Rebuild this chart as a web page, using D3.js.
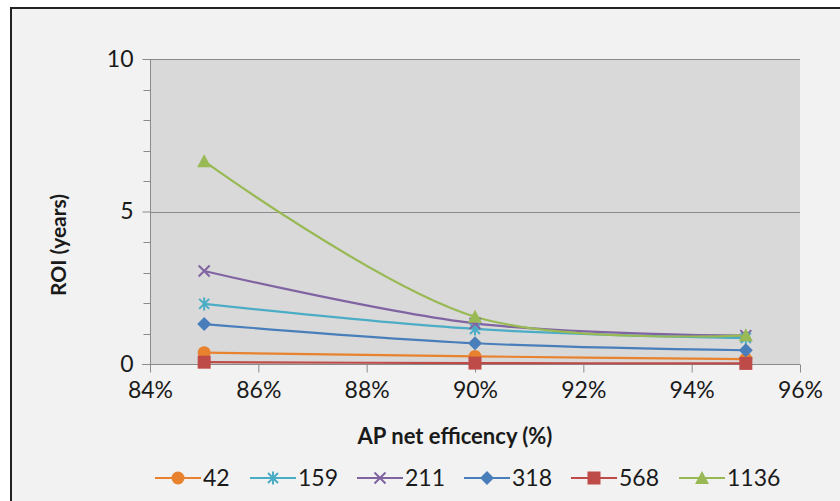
<!DOCTYPE html>
<html>
<head>
<meta charset="utf-8">
<script src="https://cdn.jsdelivr.net/npm/d3@7"></script>
<style>
  html, body { margin: 0; padding: 0; background: #ffffff; }
  svg { display: block; }
  text { font-family: Lato, "Open Sans", sans-serif; fill: #1a1a1a; }
</style>
</head>
<body>
<svg id="chart" width="840" height="501"></svg>
<script>
// AP net efficiency (fraction) on the x axis
const efficiency = [0.85, 0.90, 0.95];

// ROI in years for each installation size
const roi42   = [0.37, 0.25, 0.16];
const roi159  = [1.97, 1.15, 0.85];
const roi211  = [3.05, 1.33, 0.93];
const roi318  = [1.31, 0.68, 0.45];
const roi568  = [0.06, 0.03, 0.02];
const roi1136 = [6.65, 1.55, 0.94];

const seriesNames = ["42", "159", "211", "318", "568", "1136"];
const xTicks = [0.84, 0.86, 0.88, 0.90, 0.92, 0.94, 0.96];
const yTicks = [0, 5, 10];

const series = [
  { name: seriesNames[0], values: roi42,   color: "#E8822F", marker: "circle" },
  { name: seriesNames[1], values: roi159,  color: "#4BACC6", marker: "star" },
  { name: seriesNames[2], values: roi211,  color: "#8064A2", marker: "cross" },
  { name: seriesNames[3], values: roi318,  color: "#4A7EBB", marker: "diamond" },
  { name: seriesNames[4], values: roi568,  color: "#BE4B48", marker: "square" },
  { name: seriesNames[5], values: roi1136, color: "#98B954", marker: "triangle" }
];

const svg = d3.select("#chart");

// chart area with its frame
svg.append("rect").attr("x", 11).attr("y", 8).attr("width", 829).attr("height", 493).attr("fill", "#f2f2f2");
svg.append("line").attr("x1", 10).attr("x2", 840).attr("y1", 8).attr("y2", 8).attr("stroke", "#222").attr("stroke-width", 2);
svg.append("line").attr("x1", 11).attr("x2", 11).attr("y1", 7).attr("y2", 501).attr("stroke", "#222").attr("stroke-width", 2);

const plot = { left: 150, right: 800, top: 59, bottom: 364 };

const x = d3.scaleLinear().domain([0.84, 0.96]).range([plot.left, plot.right]);
const y = d3.scaleLinear().domain([0, 10]).range([plot.bottom, plot.top]);

// plot background
svg.append("rect")
  .attr("x", plot.left).attr("y", plot.top)
  .attr("width", plot.right - plot.left).attr("height", plot.bottom - plot.top)
  .attr("fill", "#d9d9d9");

// horizontal gridlines
svg.append("g").selectAll("line").data(yTicks.filter(d => d > 0)).join("line")
  .attr("x1", plot.left).attr("x2", plot.right)
  .attr("y1", d => Math.round(y(d)) + 0.5).attr("y2", d => Math.round(y(d)) + 0.5)
  .attr("stroke", "#8a8a8a").attr("stroke-width", 1);

// y axis
const yAxis = d3.axisLeft(y).tickValues(yTicks).tickSize(8).tickPadding(9).tickFormat(d3.format("d"));
const gy = svg.append("g").attr("transform", `translate(${plot.left + 0.5},0)`).call(yAxis);
gy.select(".domain").attr("stroke", "#8a8a8a").attr("d", `M0,${plot.top}V${plot.bottom + 8}`);
gy.selectAll(".tick line").attr("stroke", "#8a8a8a");
gy.selectAll(".tick text").attr("font-size", 23).attr("font-family", "Lato, sans-serif").attr("fill", "#1a1a1a");
// minor ticks
gy.append("g").selectAll("line").data(d3.range(1, 10).filter(d => d % 5 !== 0)).join("line")
  .attr("x1", -7).attr("x2", 0)
  .attr("y1", d => Math.round(y(d)) + 0.5).attr("y2", d => Math.round(y(d)) + 0.5)
  .attr("stroke", "#8a8a8a");

// x axis
const xAxis = d3.axisBottom(x).tickValues(xTicks).tickSize(8).tickPadding(9).tickFormat(d3.format(".0%"));
const gx = svg.append("g").attr("transform", `translate(0,${plot.bottom + 0.5})`).call(xAxis);
gx.select(".domain").attr("stroke", "#8a8a8a").attr("d", `M${plot.left - 8},0H${plot.right}`);
gx.selectAll(".tick line").attr("stroke", "#8a8a8a");
gx.selectAll(".tick text").attr("font-size", 23).attr("font-family", "Lato, sans-serif").attr("fill", "#1a1a1a");

// axis titles
svg.append("text")
  .attr("x", 455).attr("y", 444)
  .attr("text-anchor", "middle").attr("font-size", 22).attr("font-weight", "bold")
  .text("AP net efficency (%)");
svg.append("text")
  .attr("transform", "translate(66,245) rotate(-90)")
  .attr("text-anchor", "middle").attr("font-size", 21).attr("font-weight", "bold")
  .text("ROI (years)");

// markers
function drawMarker(g, type, color) {
  switch (type) {
    case "circle":
      g.append("circle").attr("r", 6.5).attr("fill", color);
      break;
    case "square":
      g.append("rect").attr("x", -6.5).attr("y", -6.5).attr("width", 13).attr("height", 13).attr("fill", color);
      break;
    case "diamond":
      g.append("path").attr("d", "M0,-7L7,0L0,7L-7,0Z").attr("fill", color);
      break;
    case "triangle":
      g.append("path").attr("d", "M0,-7L7,6L-7,6Z").attr("fill", color);
      break;
    case "cross":
      g.append("path").attr("d", "M-5.5,-5.5L5.5,5.5M-5.5,5.5L5.5,-5.5").attr("stroke", color).attr("stroke-width", 2);
      break;
    case "star":
      g.append("path").attr("d", "M-5,-5L5,5M-5,5L5,-5M0,-6.5V6.5").attr("stroke", color).attr("stroke-width", 2);
      break;
  }
}

const line = d3.line()
  .x((d, i) => x(efficiency[i]))
  .y(d => y(d))
  .curve(d3.curveCatmullRom.alpha(0.5));

// lines first, then markers, both in series order
series.forEach(s => {
  svg.append("path").datum(s.values)
    .attr("d", line).attr("fill", "none")
    .attr("stroke", s.color).attr("stroke-width", 2.2);
});
series.forEach(s => {
  s.values.forEach((v, i) => {
    const g = svg.append("g").attr("transform", `translate(${x(efficiency[i])},${y(v)})`);
    drawMarker(g, s.marker, s.color);
  });
});

// legend
const legendX = [155, 250, 357, 464, 571, 679];
const legend = svg.append("g").attr("transform", "translate(0,478)");
series.forEach((s, i) => {
  const item = legend.append("g").attr("transform", `translate(${legendX[i]},0)`);
  item.append("line").attr("x1", 0).attr("x2", 46).attr("y1", 0).attr("y2", 0)
    .attr("stroke", s.color).attr("stroke-width", 2.2);
  const m = item.append("g").attr("transform", "translate(23,0)");
  drawMarker(m, s.marker, s.color);
  item.append("text").attr("x", 48).attr("y", 8).attr("font-size", 23).text(s.name);
});
</script>
</body>
</html>
